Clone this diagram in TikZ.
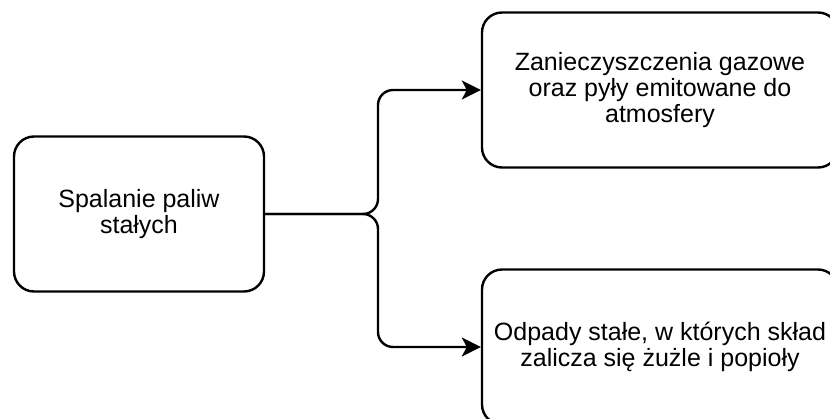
\documentclass[tikz,border=0pt]{standalone}
\usepackage{fontspec}
\setmainfont{Liberation Sans}
\usetikzlibrary{arrows.meta}

\begin{document}
\begin{tikzpicture}[x=1pt, y=-1pt, >={Stealth[length=19pt, width=19pt, inset=5pt]},
  every block/.style={draw, line width=2.4pt, rounded corners=20pt,
    align=center, inner sep=0pt, minimum height=155pt,
    font=\fontsize{25}{26}\selectfont},
  every link/.style={line width=2.4pt, rounded corners=15pt}]

\useasboundingbox (0,0) rectangle (830,418);

\node [every block/.try, minimum width=250pt] (source) at (139,214)
  {Spalanie paliw\\stałych};

\foreach \t/\y [count=\i] in {{Zanieczyszczenia gazowe\\oraz pyły emitowane do\\atmosfery}/90,
                              {Odpady stałe, w których skład\\zalicza się żużle i popioły}/347}
  \node [every block/.try, minimum width=356pt] (target-\i) at (660,\y) {\t};

\coordinate (split) at (378,214);

\foreach \i in {1,2}
  \draw [every link/.try, ->] (source.east) -- (split) |- (target-\i.west);

\end{tikzpicture}
\end{document}
